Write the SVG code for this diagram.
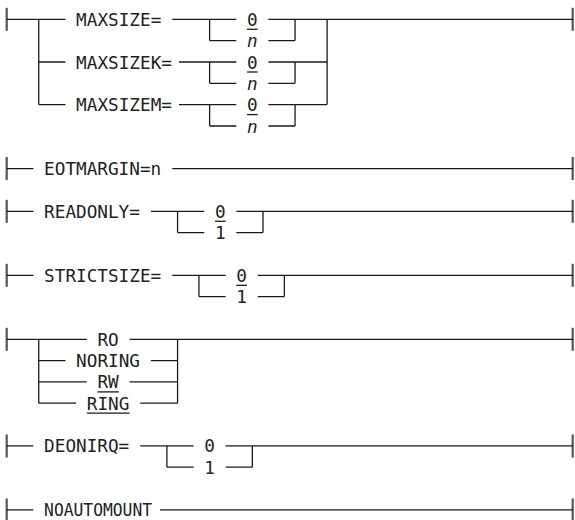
<svg xmlns="http://www.w3.org/2000/svg" width="575" height="520" viewBox="0 0 575 520">
<style>
.bg{fill:#ffffff}
.ln{stroke:#1a1a1a;stroke-width:1.3;fill:none}
.bar{stroke:#555555;stroke-width:2.2;fill:none}
.ul{stroke:#1a1a1a;stroke-width:1.3}
text{font-family:"DejaVu Sans Mono","Liberation Mono",monospace;font-size:17.7px;fill:#222222}
.it{font-style:italic}
</style>
<rect class="bg" x="0" y="0" width="575" height="520"/>
<g id="connectors">
  <g id="c-maxsize">
    <path class="bar" d="M6.7,7.8V30.8M572.7,7.8V30.8"/>
    <path class="ln" d="M6.7,19.3H65.44M172.24,19.3H236.32M268.36,19.3H572.7"/>
    <path class="ln" d="M209.62,40.6H236.32M268.36,40.6H295.06"/>
    <path class="ln" d="M38.74,62H65.44M179,62H236.32M268.36,62H327.1"/>
    <path class="ln" d="M209.62,83.3H236.32M268.36,83.3H295.06"/>
    <path class="ln" d="M38.74,104.6H65.44M179,104.6H236.32M268.36,104.6H327.1"/>
    <path class="ln" d="M209.62,126H236.32M268.36,126H295.06"/>
    <path class="ln" d="M38.74,19.3V104.6M327.1,19.3V104.6"/>
    <path class="ln" d="M209.62,19.3V40.6M295.06,19.3V40.6M209.62,62V83.3M295.06,62V83.3M209.62,104.6V126M295.06,104.6V126"/>
  </g>
  <g id="c-eotmargin">
    <path class="bar" d="M6.7,157.1V180.1M572.7,157.1V180.1"/>
    <path class="ln" d="M6.7,168.6H33.4M172.24,168.6H572.7"/>
  </g>
  <g id="c-readonly">
    <path class="bar" d="M6.7,199.8V222.8M572.7,199.8V222.8"/>
    <path class="ln" d="M6.7,211.3H33.4M150.88,211.3H204.28M236.32,211.3H572.7"/>
    <path class="ln" d="M177.58,232.6H204.28M236.32,232.6H263.02"/>
    <path class="ln" d="M177.58,211.3V232.6M263.02,211.3V232.6"/>
  </g>
  <g id="c-strictsize">
    <path class="bar" d="M6.7,263.8V286.8M572.7,263.8V286.8"/>
    <path class="ln" d="M6.7,275.3H33.4M172.24,275.3H225.64M257.68,275.3H572.7"/>
    <path class="ln" d="M198.94,296.6H225.64M257.68,296.6H284.38"/>
    <path class="ln" d="M198.94,275.3V296.6M284.38,275.3V296.6"/>
  </g>
  <g id="c-ring">
    <path class="bar" d="M6.7,327.8V350.8M572.7,327.8V350.8"/>
    <path class="ln" d="M6.7,339.3H86.8M129.52,339.3H572.7"/>
    <path class="ln" d="M38.74,360.6H65.44M150.88,360.6H177.58"/>
    <path class="ln" d="M38.74,381.9H86.8M129.52,381.9H177.58"/>
    <path class="ln" d="M38.74,403.2H76.12M140.2,403.2H177.58"/>
    <path class="ln" d="M38.74,339.3V403.2M177.58,339.3V403.2"/>
  </g>
  <g id="c-deonirq">
    <path class="bar" d="M6.7,434.4V457.4M572.7,434.4V457.4"/>
    <path class="ln" d="M6.7,445.9H33.4M140.2,445.9H193.6M225.64,445.9H572.7"/>
    <path class="ln" d="M166.9,467.2H193.6M225.64,467.2H252.34"/>
    <path class="ln" d="M166.9,445.9V467.2M252.34,445.9V467.2"/>
  </g>
  <g id="c-noautomount">
    <path class="bar" d="M6.7,498.4V521.4M572.7,498.4V521.4"/>
    <path class="ln" d="M6.7,509.9H33.4M160,509.9H572.7"/>
  </g>
</g>
<g id="n-maxsize"><text x="76.12" y="25.8">MAXSIZE=</text></g>
<g id="n-maxsize-0"><text x="247" y="25.8">0</text><line class="ul" x1="247" y1="29.3" x2="257.68" y2="29.3"/></g>
<g id="n-maxsize-n"><text class="it" x="247" y="47.1">n</text></g>
<g id="n-maxsizek"><text x="76.12" y="68.5">MAXSIZEK=</text></g>
<g id="n-maxsizek-0"><text x="247" y="68.5">0</text><line class="ul" x1="247" y1="72" x2="257.68" y2="72"/></g>
<g id="n-maxsizek-n"><text class="it" x="247" y="89.8">n</text></g>
<g id="n-maxsizem"><text x="76.12" y="111.1">MAXSIZEM=</text></g>
<g id="n-maxsizem-0"><text x="247" y="111.1">0</text><line class="ul" x1="247" y1="114.6" x2="257.68" y2="114.6"/></g>
<g id="n-maxsizem-n"><text class="it" x="247" y="132.5">n</text></g>
<g id="n-eotmargin"><text x="44.08" y="175.1">EOTMARGIN=n</text></g>
<g id="n-readonly"><text x="44.08" y="217.8">READONLY=</text></g>
<g id="n-readonly-0"><text x="214.96" y="217.8">0</text><line class="ul" x1="214.96" y1="221.3" x2="225.64" y2="221.3"/></g>
<g id="n-readonly-1"><text x="214.96" y="239.1">1</text></g>
<g id="n-strictsize"><text x="44.08" y="281.8">STRICTSIZE=</text></g>
<g id="n-strictsize-0"><text x="236.32" y="281.8">0</text><line class="ul" x1="236.32" y1="285.3" x2="247" y2="285.3"/></g>
<g id="n-strictsize-1"><text x="236.32" y="303.1">1</text></g>
<g id="n-ro"><text x="97.48" y="345.8">RO</text></g>
<g id="n-noring"><text x="76.12" y="367.1">NORING</text></g>
<g id="n-rw"><text x="97.48" y="388.4">RW</text><line class="ul" x1="97.48" y1="391.9" x2="118.84" y2="391.9"/></g>
<g id="n-ring"><text x="86.8" y="409.7">RING</text><line class="ul" x1="86.8" y1="413.2" x2="129.52" y2="413.2"/></g>
<g id="n-deonirq"><text x="44.08" y="452.4">DEONIRQ=</text></g>
<g id="n-deonirq-0"><text x="204.28" y="452.4">0</text></g>
<g id="n-deonirq-1"><text x="204.28" y="473.7">1</text></g>
<g id="n-noautomount"><text x="44.08" y="516.4" textLength="108" lengthAdjust="spacingAndGlyphs">NOAUTOMOUNT</text></g>
</svg>
